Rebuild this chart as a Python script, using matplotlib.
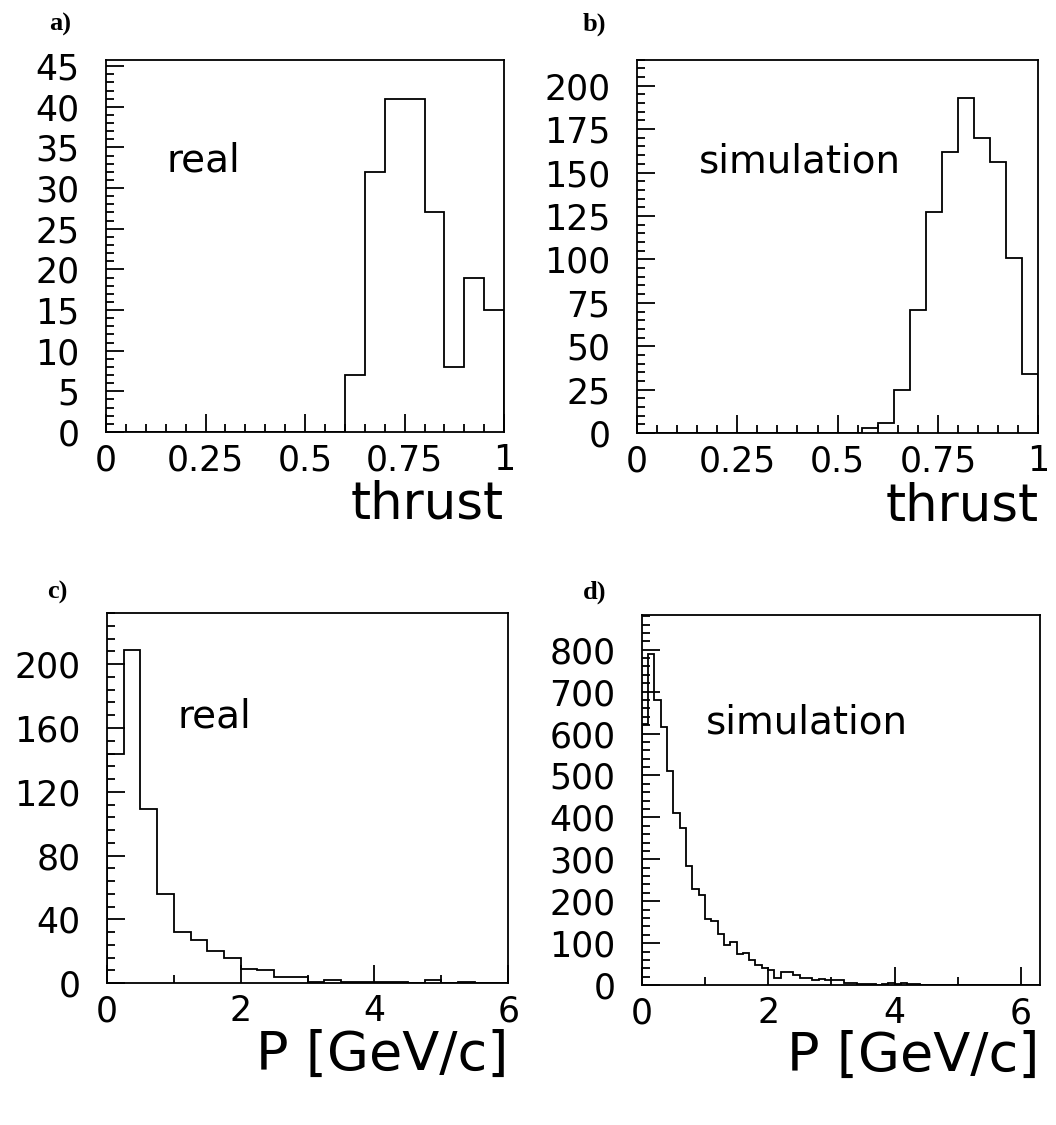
import numpy as np
import matplotlib
matplotlib.use("Agg")
import matplotlib.pyplot as plt
from matplotlib.ticker import MultipleLocator

# --- data ---
# a) thrust, real data: 20 bins of 0.05 on [0, 1]
thrust_edges_a = np.linspace(0.0, 1.0, 21)
thrust_real = [0, 0, 0, 0, 0, 0, 0, 0, 0, 0, 0, 0,
               7, 32, 41, 41, 27, 8, 19, 15]

# b) thrust, simulation: 25 bins of 0.04 on [0, 1]
thrust_edges_b = np.linspace(0.0, 1.0, 26)
thrust_sim = [0, 0, 0, 0, 0, 0, 0, 0, 0, 0, 0, 0, 0, 0,
              3, 6, 25, 71, 127, 162, 193, 170, 156, 101, 34]

# c) momentum, real data: 24 bins of 0.25 on [0, 6]
p_edges_c = np.linspace(0.0, 6.0, 25)
p_real = [144, 209, 109, 56, 32, 27, 20, 16, 9, 8, 4, 4,
          1, 2, 1, 1, 1, 1, 0, 2, 0, 1, 0, 0]

# d) momentum, simulation: 63 bins of 0.1 on [0, 6.3]
p_edges_d = np.linspace(0.0, 6.3, 64)
p_sim = [623, 790, 680, 616, 510, 410, 374, 283, 229, 215,
         157, 152, 121, 96, 103, 75, 77, 60, 47, 40,
         36, 18, 30, 31, 23, 18, 16, 12, 14, 11,
         12, 12, 5, 4, 3, 3, 2, 1, 2, 4,
         3, 4, 2, 2, 1, 1, 0, 1, 1, 1,
         1, 0, 0, 0, 0, 0, 0, 0, 0, 0,
         0, 0, 0]

panel_tags = ["a)", "b)", "c)", "d)"]
panel_text = ["real", "simulation", "real", "simulation"]
x_titles = ["thrust", "thrust", "P [GeV/c]", "P [GeV/c]"]

LW = 1.3
TICK_FS = 25

fig = plt.figure(figsize=(10.56, 11.25), dpi=100)

# axes rectangles (figure fraction)
rects = [
    [0.1004, 0.616, 0.377, 0.331],
    [0.6032, 0.615, 0.380, 0.332],
    [0.1013, 0.126, 0.380, 0.329],
    [0.6077, 0.1244, 0.377, 0.329],
]
tag_pos = [(-0.116, 1.094), (-0.107, 1.094), (-0.125, 1.057), (-0.118, 1.062)]

settings = [
    # edges, counts, xlim, ylim, xmaj, xmin, ymaj, ymin, text pos
    (thrust_edges_a, thrust_real, (0, 1), (0, 45.8), 0.25, 0.05, 5, 1, (0.153, 32.0)),
    (thrust_edges_b, thrust_sim, (0, 1), (0, 215), 0.25, 0.05, 25, 5, (0.155, 150)),
    (p_edges_c, p_real, (0, 6), (0, 232), 2, 1, 40, 8, (1.05, 160)),
    (p_edges_d, p_sim, (0, 6.3), (0, 883), 2, 1, 100, 20, (1.01, 600)),
]

for i, (rect, st) in enumerate(zip(rects, settings)):
    edges, counts, xlim, ylim, xmaj, xmin, ymaj, ymin, tpos = st
    ax = fig.add_axes(rect)
    ax.stairs(counts, edges, color="black", linewidth=LW)
    ax.set_ylim(*ylim)

    ax.xaxis.set_major_locator(MultipleLocator(xmaj))
    ax.xaxis.set_minor_locator(MultipleLocator(xmin))
    ax.yaxis.set_major_locator(MultipleLocator(ymaj))
    ax.yaxis.set_minor_locator(MultipleLocator(ymin))

    ax.tick_params(which="both", direction="in", top=False, right=False,
                   width=LW, color="black")
    ax.tick_params(which="major", length=13, labelsize=TICK_FS)
    ax.tick_params(which="minor", length=6)
    ax.tick_params(axis="y", pad=19)
    ax.tick_params(axis="x", pad=8)
    for sp in ax.spines.values():
        sp.set_linewidth(LW)

    if i < 2:
        ax.set_xticks([0, 0.25, 0.5, 0.75, 1.0])
        ax.set_xticklabels(["0", "0.25", "0.5", "0.75", "1"])
    else:
        ax.set_xticks([0, 2, 4, 6])
        ax.set_xticklabels(["0", "2", "4", "6"])
    ax.set_xlim(*xlim)

    ax.text(tpos[0], tpos[1], panel_text[i], fontsize=28, va="baseline",
            ha="left")

    ax.text(1.0, -0.233, x_titles[i], transform=ax.transAxes,
            fontsize=37 if i < 2 else 39, ha="right", va="baseline")

    ax.text(tag_pos[i][0], tag_pos[i][1], panel_tags[i],
            transform=ax.transAxes, fontsize=19, family="Liberation Serif",
            fontweight="bold", ha="center", va="center")

fig.savefig("out.png", dpi=100)
